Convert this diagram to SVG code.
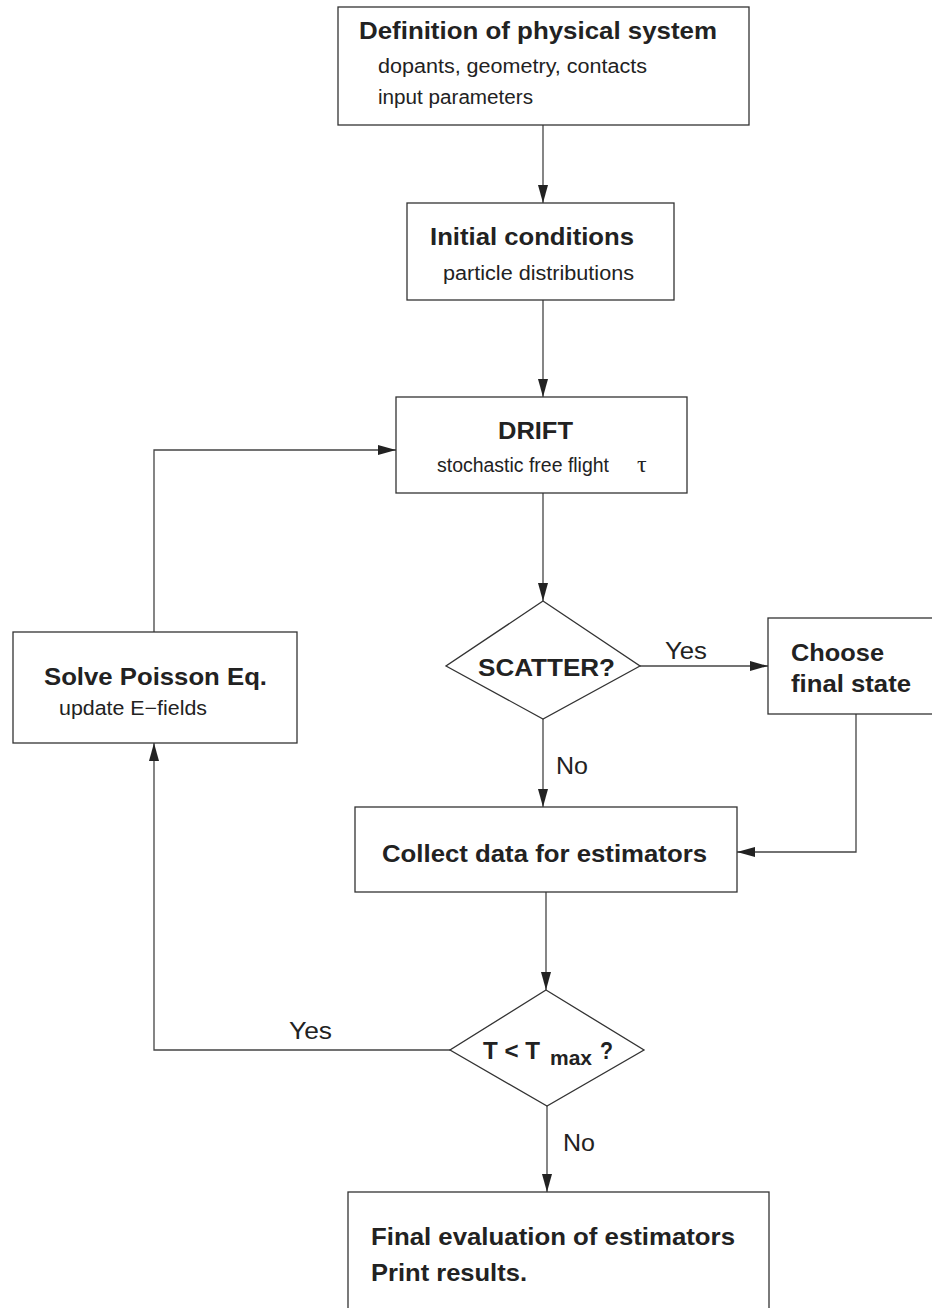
<svg xmlns="http://www.w3.org/2000/svg" width="932" height="1308" viewBox="0 0 932 1308">
<style>
.box{fill:#fff;stroke:#333;stroke-width:1.3}
.ln{fill:none;stroke:#444;stroke-width:1.3}
.t{font-family:"Liberation Sans",Arial,sans-serif;font-weight:bold;font-size:24px;fill:#222}
.s{font-family:"Liberation Sans",Arial,sans-serif;font-size:20px;fill:#222}
.l{font-family:"Liberation Sans",Arial,sans-serif;font-size:24px;fill:#222}
</style>
<defs>
<marker id="ah" markerWidth="18" markerHeight="10" refX="18" refY="5" orient="auto" markerUnits="userSpaceOnUse">
<path d="M0,0 L18,5 L0,10 Z" fill="#222"/>
</marker>
</defs>
<rect width="932" height="1308" fill="#fff"/>
<g id="connectors">
<line class="ln" x1="543" y1="125" x2="543" y2="203" marker-end="url(#ah)"/>
<line class="ln" x1="543" y1="300" x2="543" y2="397" marker-end="url(#ah)"/>
<line class="ln" x1="543" y1="493" x2="543" y2="601" marker-end="url(#ah)"/>
<line class="ln" x1="640" y1="666" x2="768" y2="666" marker-end="url(#ah)"/>
<line class="ln" x1="543" y1="719" x2="543" y2="807" marker-end="url(#ah)"/>
<polyline class="ln" points="856,714 856,852 737,852" marker-end="url(#ah)"/>
<line class="ln" x1="546" y1="892" x2="546" y2="990" marker-end="url(#ah)"/>
<line class="ln" x1="547" y1="1106" x2="547" y2="1192" marker-end="url(#ah)"/>
<polyline class="ln" points="450,1050 154,1050 154,743" marker-end="url(#ah)"/>
<polyline class="ln" points="154,632 154,450 396,450" marker-end="url(#ah)"/>
<text class="l" x="665" y="659" textLength="42" lengthAdjust="spacingAndGlyphs">Yes</text>
<text class="l" x="556" y="774" textLength="32" lengthAdjust="spacingAndGlyphs">No</text>
<text class="l" x="289" y="1039" textLength="43" lengthAdjust="spacingAndGlyphs">Yes</text>
<text class="l" x="563" y="1151" textLength="32" lengthAdjust="spacingAndGlyphs">No</text>
</g>
<g id="n-definition">
<rect class="box" x="338" y="7" width="411" height="118"/>
<text class="t" x="359" y="39" textLength="358" lengthAdjust="spacingAndGlyphs">Definition of physical system</text>
<text class="s" x="378" y="73" textLength="269" lengthAdjust="spacingAndGlyphs">dopants, geometry, contacts</text>
<text class="s" x="378" y="104" textLength="155" lengthAdjust="spacingAndGlyphs">input parameters</text>
</g>
<g id="n-initial">
<rect class="box" x="407" y="203" width="267" height="97"/>
<text class="t" x="430" y="245" textLength="204" lengthAdjust="spacingAndGlyphs">Initial conditions</text>
<text class="s" x="443" y="280" textLength="191" lengthAdjust="spacingAndGlyphs">particle distributions</text>
</g>
<g id="n-drift">
<rect class="box" x="396" y="397" width="291" height="96"/>
<text class="t" x="498" y="439" textLength="75" lengthAdjust="spacingAndGlyphs">DRIFT</text>
<text class="s" x="437" y="472" textLength="172" lengthAdjust="spacingAndGlyphs">stochastic free flight</text>
<text x="637" y="472" style="font-family:'Liberation Serif','Times New Roman',serif;font-size:24px;fill:#222">τ</text>
</g>
<g id="n-scatter">
<polygon class="box" points="543,601 640,666 543,719 446,666"/>
<text class="t" x="478" y="676" textLength="137" lengthAdjust="spacingAndGlyphs">SCATTER?</text>
</g>
<g id="n-choose">
<rect class="box" x="768" y="618" width="170" height="96"/>
<text class="t" x="791" y="661" textLength="93" lengthAdjust="spacingAndGlyphs">Choose</text>
<text class="t" x="791" y="692" textLength="120" lengthAdjust="spacingAndGlyphs">final state</text>
</g>
<g id="n-collect">
<rect class="box" x="355" y="807" width="382" height="85"/>
<text class="t" x="382" y="862" textLength="325" lengthAdjust="spacingAndGlyphs">Collect data for estimators</text>
</g>
<g id="n-tmax">
<polygon class="box" points="546,990 644,1050 547,1106 450,1050"/>
<text class="t" x="483" y="1059" textLength="57" lengthAdjust="spacingAndGlyphs">T &lt; T</text>
<text class="t" x="550" y="1065" textLength="42" lengthAdjust="spacingAndGlyphs" style="font-size:20px">max</text>
<text class="t" x="600" y="1059" textLength="13" lengthAdjust="spacingAndGlyphs">?</text>
</g>
<g id="n-poisson">
<rect class="box" x="13" y="632" width="284" height="111"/>
<text class="t" x="44" y="685" textLength="223" lengthAdjust="spacingAndGlyphs">Solve Poisson Eq.</text>
<text class="s" x="59" y="715" textLength="148" lengthAdjust="spacingAndGlyphs">update E−fields</text>
</g>
<g id="n-final">
<rect class="box" x="348" y="1192" width="421" height="130"/>
<text class="t" x="371" y="1245" textLength="364" lengthAdjust="spacingAndGlyphs">Final evaluation of estimators</text>
<text class="t" x="371" y="1281" textLength="156" lengthAdjust="spacingAndGlyphs">Print results.</text>
</g>
</svg>
